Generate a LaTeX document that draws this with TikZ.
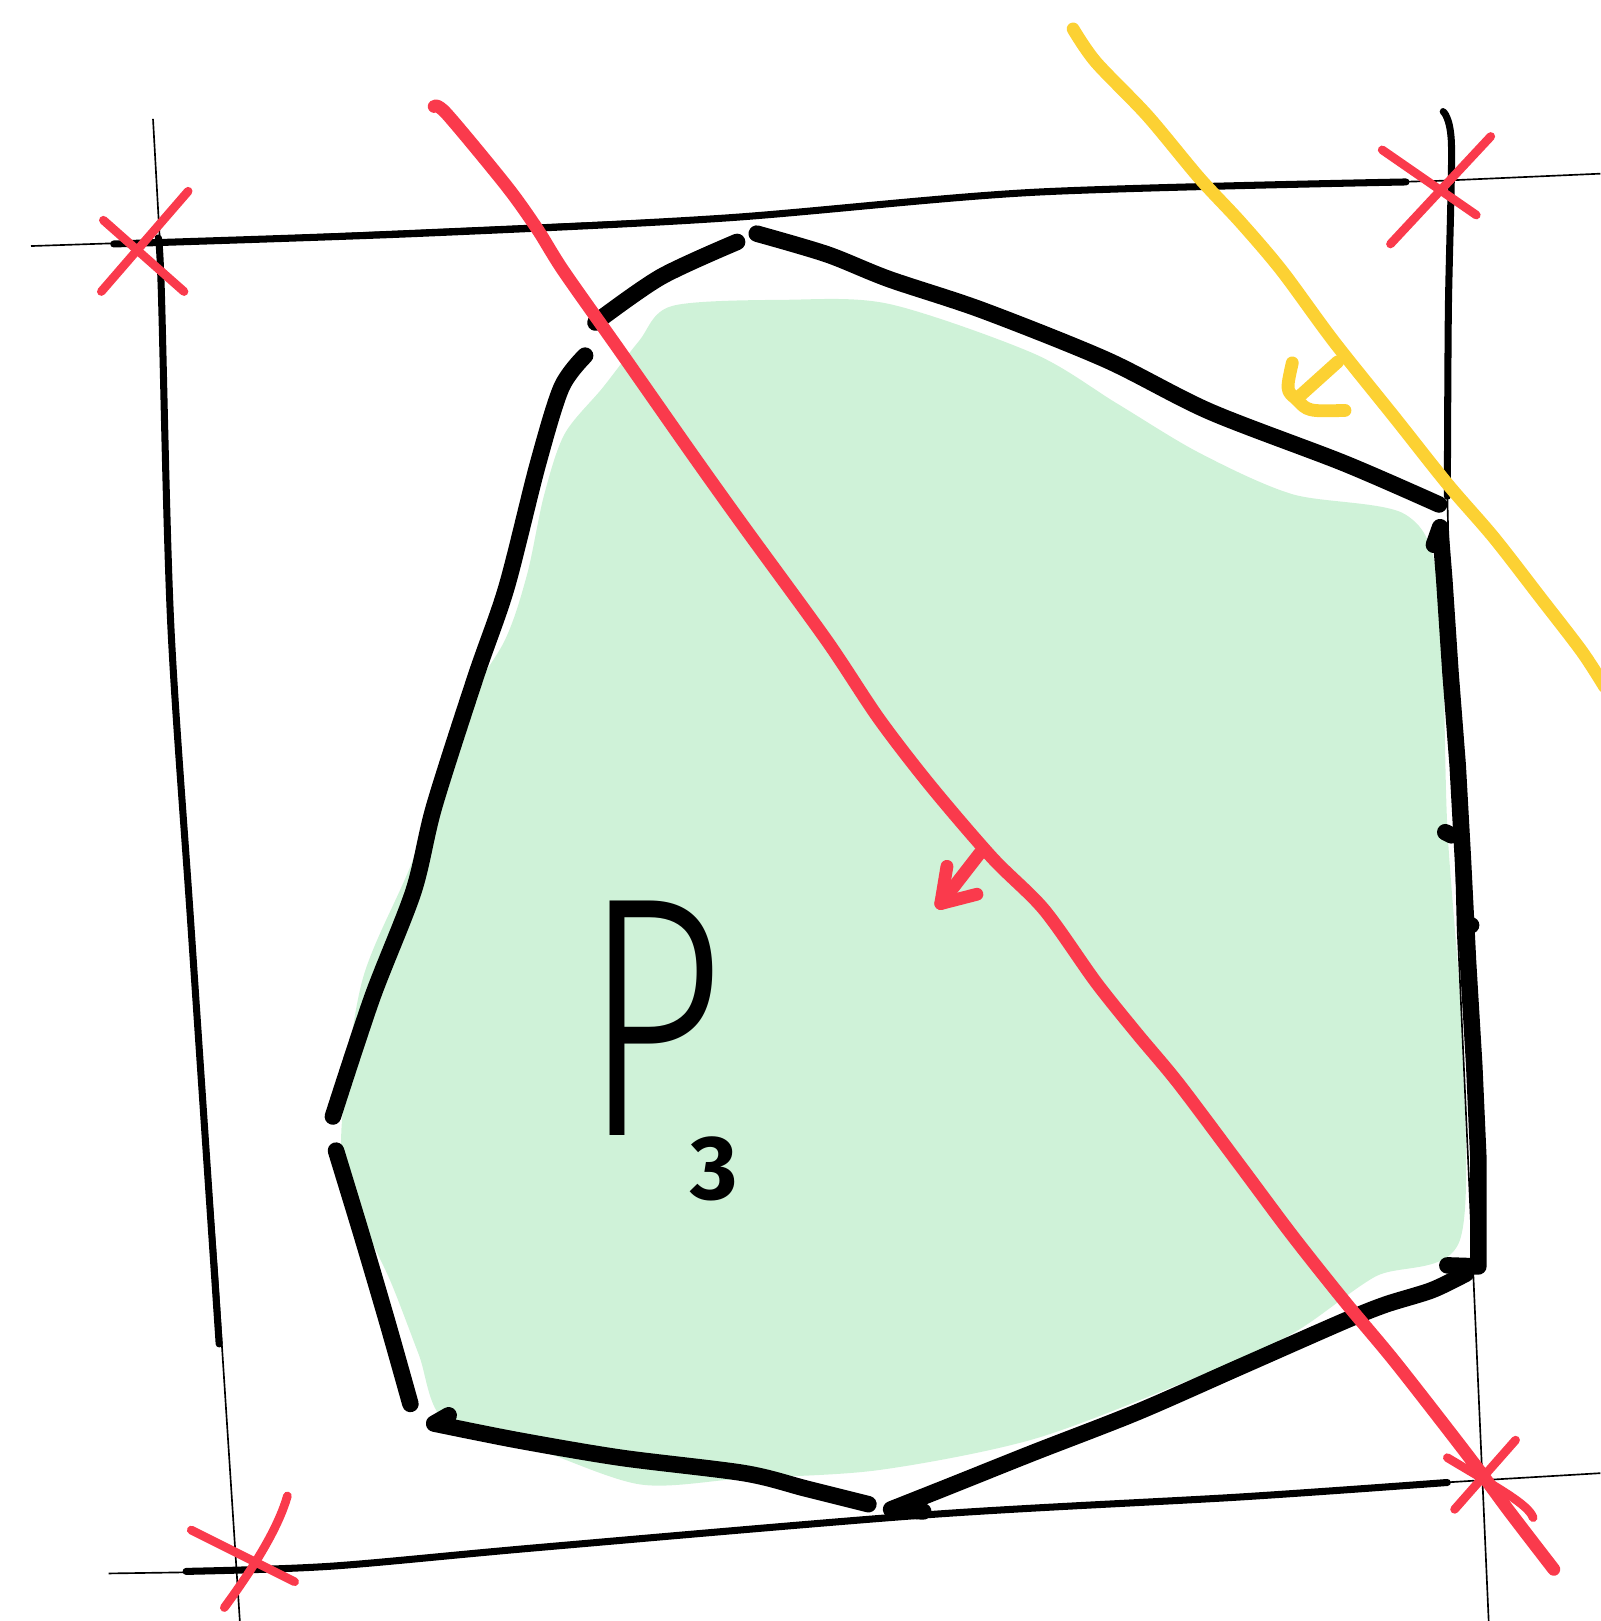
\documentclass[tikz,border=0pt]{standalone}
\usepackage{graphicx}
\usepackage{fontspec}
\newfontfamily\handfont{Fira Sans}[UprightFont={* Light}]
\newfontfamily\subfont{Fira Sans}
\definecolor{sketchred}{HTML}{FA3A4C}
\definecolor{sketchyellow}{HTML}{FCD133}
\definecolor{fillgreen}{HTML}{CFF2D8}

\begin{document}
\begin{tikzpicture}[
  x=0.5pt, y=-0.5pt,
  hull/.style={line width=8pt, line cap=round, line join=round},
  framethin/.style={line width=0.8pt},
  framethick/.style={line width=3.4pt, line cap=round},
  cross/.style={sketchred, line width=4.2pt, line cap=round},
  cut/.style={line width=6.2pt, line cap=round, line join=round},
  label/.style={inner sep=0pt}
]
\useasboundingbox (0,0) rectangle (1548,1568);

% shaded region
\fill[fillgreen] plot[smooth cycle, tension=0.5] coordinates {
  (650,296) (760,290) (860,294) (1000,342) (1080,390) (1160,438)
  (1250,478) (1360,498) (1392,570) (1400,800) (1414,1000) (1412,1200)
  (1330,1235) (1250,1290) (1150,1335) (1000,1392) (850,1422) (720,1430)
  (620,1436) (520,1402) (430,1374) (405,1310) (378,1240) (346,1170)
  (330,1100) (350,950) (400,830) (440,700) (488,620) (510,555)
  (526,480) (546,420) (583,375) (618,330)};

% bounding box, sketched
\draw[framethin] (30,238) -- (150,234) -- (700,210) -- (1000,185) -- (1390,175) -- (1548,168);
\draw[framethick] plot[smooth] coordinates {(110,236) (400,226) (700,211) (1000,186) (1360,176)};
\draw[framethin] (148,115) -- (155,240) -- (165,600) -- (185,900) -- (210,1230) -- (232,1568);
\draw[framethick] plot[smooth] coordinates {(153,230) (156,280) (165,600) (185,900) (212,1300)};
\draw[framethin] (1395,105) -- (1405,140) -- (1400,480) -- (1410,900) -- (1425,1230) -- (1440,1568);
\draw[framethick] plot[smooth] coordinates {(1396,108) (1404,140) (1401,300) (1400,480)};
\draw[framethin] (105,1522) -- (240,1520) -- (500,1500) -- (900,1465) -- (1430,1432) -- (1548,1425);
\draw[framethick] plot[smooth] coordinates {(180,1520) (320,1515) (520,1497) (900,1465) (1200,1448) (1400,1434)};

% hull of P3
\draw[hull] plot[smooth] coordinates {(322,1080) (360,965) (400,862) (420,780)
  (460,655) (490,568) (520,450) (543,375) (566,344)};
\draw[hull] plot[smooth] coordinates {(576,312) (639,268) (713,234)};
\draw[hull] plot[smooth] coordinates {(732,226) (800,246) (860,270) (950,300)
  (1070,348) (1170,398) (1300,448) (1392,488)};
\draw[hull] (1387,527) -- (1393,510) -- (1397,560) -- (1403,650) -- (1410,740)
  -- (1415,830) -- (1420,930) -- (1426,1030) -- (1430,1120) -- (1430,1225) -- (1400,1224);
\draw[hull] (1398,805) -- (1404,808);
\draw[hull] (1418,893) -- (1423,895);
\draw[hull] plot[smooth] coordinates {(1418,1232) (1385,1248) (1340,1262) (1300,1278)
  (1200,1322) (1100,1366) (1000,1405) (920,1437) (862,1460)} -- (893,1462);
\draw[hull] plot[smooth] coordinates {(840,1455) (780,1440) (720,1425) (600,1410)
  (500,1393) (420,1377)} -- (434,1369);
\draw[hull] plot[smooth] coordinates {(397,1358) (375,1280) (350,1195) (325,1113)};

% label
\node[label, anchor=base west] (plabel) at (563,1098)
  {\scalebox{1}[1.38]{\handfont\fontsize{120}{120}\selectfont P}\hspace{-16pt}%
   \raisebox{-31pt}{\subfont\bfseries\fontsize{44}{44}\selectfont 3}};

% red cutting line and its arrow
\draw[cut, sketchred] plot[smooth] coordinates {(420,103) (432,110) (490,180) (520,222)
  (545,262) (600,340) (670,440) (720,510) (800,620) (850,695) (900,760)
  (960,830) (1010,880) (1060,950) (1100,1000) (1140,1048) (1200,1128)
  (1250,1195) (1300,1258) (1350,1318) (1420,1408) (1460,1462) (1503,1518)};
\coordinate (redtail) at (948,825);
\coordinate (redtip) at (910,874);
\draw[cut, sketchred] (redtail) -- (redtip);
\draw[cut, sketchred] (916,838) -- (redtip) -- (945,865);

% yellow cutting line and its arrow
\draw[cut, sketchyellow] plot[smooth] coordinates {(1038,28) (1060,60) (1110,112)
  (1160,172) (1200,215) (1240,262) (1290,330) (1350,405) (1400,468)
  (1445,520) (1490,578) (1530,630) (1552,664)};
\coordinate (yeltail) at (1294,350);
\coordinate (yeltip) at (1254,386);
\draw[cut, sketchyellow] (yeltail) -- (yeltip);
\draw[cut, sketchyellow] (1250,351) .. controls (1244,378) .. (yeltip) .. controls (1265,398) .. (1301,397);

% corners
\draw[cross] (98,282) -- (182,185);
\draw[cross] (100,213) -- (178,282);
\draw[cross] (1345,236) -- (1442,132);
\draw[cross] (1337,145) -- (1428,208);
\draw[cross] (217,1555) .. controls (250,1510) and (270,1475) .. (278,1447);
\draw[cross] (185,1480) -- (285,1530);
\draw[cross] (1407,1460) -- (1466,1393);
\draw[cross] (1400,1410) .. controls (1450,1440) and (1478,1455) .. (1483,1468);
\end{tikzpicture}
\end{document}
